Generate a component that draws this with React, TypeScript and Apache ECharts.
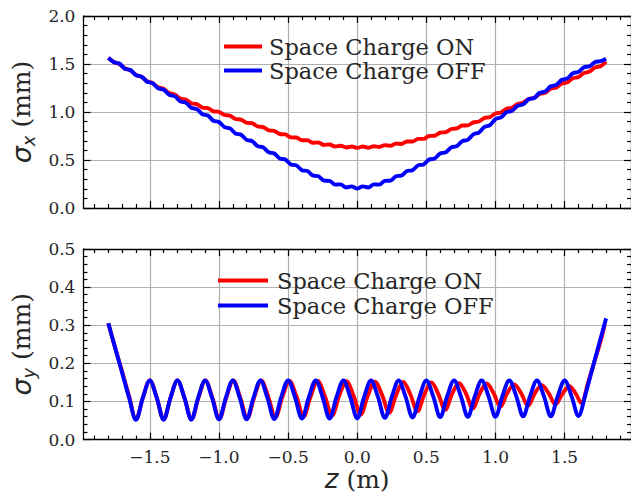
import React, { useEffect, useRef } from 'react';
import * as echarts from 'echarts';

// ---------- data ----------
const zX = [
  -1.8, -1.76, -1.72, -1.68, -1.64, -1.6, -1.56, -1.52, -1.48, -1.44,
  -1.4, -1.36, -1.32, -1.28, -1.24, -1.2, -1.16, -1.12, -1.08, -1.04,
  -1.0, -0.96, -0.92, -0.88, -0.84, -0.8, -0.76, -0.72, -0.68, -0.64,
  -0.6, -0.56, -0.52, -0.48, -0.44, -0.4, -0.36, -0.32, -0.28, -0.24,
  -0.2, -0.16, -0.12, -0.08, -0.04, 0.0, 0.04, 0.08, 0.12, 0.16,
  0.2, 0.24, 0.28, 0.32, 0.36, 0.4, 0.44, 0.48, 0.52, 0.56,
  0.6, 0.64, 0.68, 0.72, 0.76, 0.8, 0.84, 0.88, 0.92, 0.96,
  1.0, 1.04, 1.08, 1.12, 1.16, 1.2, 1.24, 1.28, 1.32, 1.36,
  1.4, 1.44, 1.48, 1.52, 1.56, 1.6, 1.64, 1.68, 1.72, 1.76,
  1.8,
];

const sigmaXOn = [
  1.562, 1.520, 1.500, 1.453, 1.434, 1.386, 1.367, 1.320, 1.302, 1.258,
  1.242, 1.198, 1.183, 1.141, 1.129, 1.091, 1.082, 1.046, 1.040, 1.007,
  1.002, 0.969, 0.962, 0.927, 0.921, 0.888, 0.883, 0.850, 0.843, 0.809,
  0.804, 0.771, 0.767, 0.736, 0.734, 0.706, 0.706, 0.679, 0.682, 0.657,
  0.662, 0.641, 0.649, 0.630, 0.641, 0.626, 0.640, 0.627, 0.644, 0.635,
  0.655, 0.648, 0.671, 0.667, 0.693, 0.692, 0.720, 0.720, 0.750, 0.753,
  0.785, 0.790, 0.823, 0.829, 0.859, 0.861, 0.892, 0.901, 0.938, 0.947,
  0.985, 0.995, 1.034, 1.045, 1.084, 1.096, 1.136, 1.148, 1.188, 1.201,
  1.242, 1.255, 1.296, 1.309, 1.351, 1.365, 1.406, 1.421, 1.463, 1.477,
  1.525,
];

const sigmaXOff = [
  1.565, 1.519, 1.505, 1.451, 1.437, 1.383, 1.369, 1.315, 1.301, 1.247,
  1.233, 1.179, 1.165, 1.111, 1.098, 1.044, 1.030, 0.977, 0.963, 0.909,
  0.896, 0.843, 0.829, 0.776, 0.763, 0.710, 0.697, 0.645, 0.632, 0.580,
  0.568, 0.516, 0.505, 0.454, 0.444, 0.394, 0.385, 0.338, 0.331, 0.286,
  0.283, 0.243, 0.246, 0.213, 0.225, 0.202, 0.225, 0.213, 0.246, 0.243,
  0.283, 0.286, 0.331, 0.338, 0.385, 0.394, 0.444, 0.454, 0.505, 0.516,
  0.568, 0.580, 0.632, 0.645, 0.697, 0.710, 0.768, 0.786, 0.844, 0.863,
  0.926, 0.944, 0.998, 1.012, 1.065, 1.079, 1.133, 1.146, 1.200, 1.214,
  1.268, 1.282, 1.336, 1.350, 1.404, 1.418, 1.467, 1.476, 1.520, 1.529,
  1.555,
];

const zYOn = [
  -1.8, -1.75, -1.7, -1.65, -1.6, -1.55, -1.5, -1.45, -1.4, -1.35,
  -1.3, -1.25, -1.198, -1.148, -1.098, -1.048, -0.997, -0.947, -0.896, -0.846,
  -0.795, -0.745, -0.694, -0.643, -0.592, -0.541, -0.49, -0.439, -0.388, -0.337,
  -0.286, -0.234, -0.182, -0.13, -0.078, -0.026, 0.025, 0.077, 0.128, 0.18,
  0.231, 0.282, 0.333, 0.384, 0.435, 0.486, 0.536, 0.586, 0.636, 0.686,
  0.736, 0.786, 0.836, 0.886, 0.936, 0.986, 1.035, 1.085, 1.135, 1.185,
  1.235, 1.285, 1.335, 1.385, 1.434, 1.484, 1.534, 1.578, 1.62, 1.67,
  1.72, 1.76, 1.79,
];

const sigmaYOn = [
  0.305, 0.240, 0.178, 0.114, 0.053, 0.110, 0.155, 0.110, 0.053, 0.110,
  0.155, 0.110, 0.054, 0.110, 0.155, 0.110, 0.055, 0.110, 0.155, 0.110,
  0.056, 0.111, 0.155, 0.112, 0.058, 0.112, 0.154, 0.113, 0.060, 0.113,
  0.154, 0.114, 0.063, 0.115, 0.153, 0.115, 0.066, 0.116, 0.152, 0.117,
  0.070, 0.118, 0.151, 0.119, 0.074, 0.119, 0.150, 0.120, 0.078, 0.120,
  0.148, 0.121, 0.082, 0.121, 0.147, 0.122, 0.086, 0.122, 0.145, 0.122,
  0.089, 0.122, 0.143, 0.121, 0.092, 0.120, 0.140, 0.122, 0.096, 0.150,
  0.210, 0.258, 0.302,
];

const zYOff = [
  -1.8, -1.75, -1.7, -1.65, -1.6, -1.55, -1.5, -1.45, -1.4, -1.35,
  -1.3, -1.25, -1.2, -1.15, -1.1, -1.05, -1.0, -0.95, -0.9, -0.85,
  -0.8, -0.75, -0.7, -0.65, -0.6, -0.55, -0.5, -0.45, -0.4, -0.35,
  -0.3, -0.25, -0.2, -0.15, -0.1, -0.05, 0.0, 0.05, 0.1, 0.15,
  0.2, 0.25, 0.3, 0.35, 0.4, 0.45, 0.5, 0.55, 0.6, 0.65,
  0.7, 0.75, 0.8, 0.85, 0.9, 0.95, 1.0, 1.05, 1.1, 1.15,
  1.2, 1.25, 1.3, 1.35, 1.4, 1.45, 1.5, 1.55, 1.6, 1.65,
  1.7, 1.75, 1.8,
];

const sigmaYOff = [
  0.305, 0.240, 0.175, 0.110, 0.052, 0.110, 0.155, 0.110, 0.052, 0.110,
  0.155, 0.110, 0.052, 0.110, 0.155, 0.110, 0.053, 0.110, 0.155, 0.110,
  0.053, 0.110, 0.155, 0.110, 0.054, 0.111, 0.155, 0.111, 0.055, 0.111,
  0.155, 0.111, 0.055, 0.111, 0.155, 0.111, 0.056, 0.112, 0.155, 0.112,
  0.057, 0.112, 0.155, 0.112, 0.058, 0.112, 0.155, 0.113, 0.059, 0.113,
  0.155, 0.113, 0.060, 0.113, 0.155, 0.113, 0.060, 0.114, 0.155, 0.114,
  0.061, 0.114, 0.155, 0.114, 0.061, 0.114, 0.155, 0.114, 0.062, 0.118,
  0.185, 0.252, 0.318,
];

const seriesNames = ['Space Charge ON', 'Space Charge OFF'];
const xMajorTicks = [-1.5, -1.0, -0.5, 0.0, 0.5, 1.0, 1.5];
const xMinorTicks = [
  -1.9, -1.8, -1.7, -1.6, -1.4, -1.3, -1.2, -1.1, -0.9, -0.8, -0.7, -0.6,
  -0.4, -0.3, -0.2, -0.1, 0.1, 0.2, 0.3, 0.4, 0.6, 0.7, 0.8, 0.9,
  1.1, 1.2, 1.3, 1.4, 1.6, 1.7, 1.8, 1.9,
];
const X_MIN = -1.98;
const X_MAX = 1.98;

// ---------- styling ----------
const TEXT = '#262626';
const SPINE = '#000000';
const GRIDC = '#b0b0b0';
const RED = '#ff0000';
const BLUE = '#0000ff';
const SERIF = 'DejaVu Serif';
const SANS = 'DejaVu Sans';
const TICK_FS = 17;
const LEGEND_FS = 22.5;

const fmtX = (v: number) => (v < 0 ? '\u2212' : '') + Math.abs(v).toFixed(1);

function xAxesFor(gi: number, withLabels: boolean) {
  const base = { type: 'value', gridIndex: gi, min: X_MIN, max: X_MAX };
  const tickLine = { color: SPINE, width: 1.2 };
  const major = {
    ...base,
    position: 'bottom',
    axisLine: { show: true, onZero: false, lineStyle: { color: SPINE, width: 1.3 } },
    axisTick: { show: true, inside: true, length: 7, customValues: xMajorTicks, lineStyle: tickLine },
    axisLabel: {
      show: withLabels,
      customValues: xMajorTicks,
      formatter: fmtX,
      margin: 9,
      lineHeight: 16,
      fontFamily: SERIF,
      fontSize: TICK_FS,
      color: TEXT,
    },
    splitLine: { show: true, lineStyle: { color: GRIDC, width: 1.2 } },
    ...(withLabels
      ? {
          name: '{z|z}{p| (m)}',
          nameLocation: 'middle',
          nameGap: 26,
          nameTextStyle: {
            rich: {
              z: { fontFamily: SANS, fontStyle: 'italic', fontSize: 26, color: TEXT, lineHeight: 20 },
              p: { fontFamily: SERIF, fontSize: 25, color: TEXT, lineHeight: 20 },
            },
          },
        }
      : {}),
  };
  const minor = {
    ...base,
    position: 'bottom',
    axisLine: { show: false, onZero: false },
    axisTick: { show: true, inside: true, length: 4, customValues: xMinorTicks, lineStyle: tickLine },
    axisLabel: { show: false },
    splitLine: { show: false },
  };
  const topMajor = {
    ...base,
    position: 'top',
    axisLine: { show: true, onZero: false, lineStyle: { color: SPINE, width: 1.3 } },
    axisTick: { show: true, inside: true, length: 7, customValues: xMajorTicks, lineStyle: tickLine },
    axisLabel: { show: false },
    splitLine: { show: false },
  };
  const topMinor = {
    ...base,
    position: 'top',
    axisLine: { show: false, onZero: false },
    axisTick: { show: true, inside: true, length: 4, customValues: xMinorTicks, lineStyle: tickLine },
    axisLabel: { show: false },
    splitLine: { show: false },
  };
  return [major, minor, topMajor, topMinor];
}

function yAxesFor(gi: number, max: number, interval: number, sub: string) {
  const base = { type: 'value', gridIndex: gi, min: 0, max, interval };
  const tickLine = { color: SPINE, width: 1.2 };
  const left = {
    ...base,
    position: 'left',
    axisLine: { show: true, onZero: false, lineStyle: { color: SPINE, width: 1.3 } },
    axisTick: { show: true, inside: true, length: 7, lineStyle: tickLine },
    minorTick: { show: true, splitNumber: 5, length: 4, lineStyle: tickLine },
    axisLabel: {
      formatter: (v: number) => v.toFixed(1),
      margin: 8,
      fontFamily: SERIF,
      fontSize: TICK_FS,
      color: TEXT,
    },
    splitLine: { show: true, lineStyle: { color: GRIDC, width: 1.2 } },
    name: '{s|\u03c3}{sub|' + sub + '}{p| (mm)}',
    nameLocation: 'middle',
    nameRotate: 90,
    nameGap: 41,
    nameTextStyle: {
      rich: {
        s: { fontFamily: SANS, fontStyle: 'italic', fontSize: 27, color: TEXT, lineHeight: 32 },
        sub: { fontFamily: SANS, fontStyle: 'italic', fontSize: 18, color: TEXT, verticalAlign: 'bottom', lineHeight: 18 },
        p: { fontFamily: SERIF, fontSize: 25, color: TEXT, lineHeight: 32 },
      },
    },
  };
  const right = {
    ...base,
    position: 'right',
    axisLine: { show: true, onZero: false, lineStyle: { color: SPINE, width: 1.3 } },
    axisTick: { show: true, inside: true, length: 7, lineStyle: tickLine },
    minorTick: { show: true, splitNumber: 5, length: 4, lineStyle: tickLine },
    axisLabel: { show: false },
    splitLine: { show: false },
  };
  return [left, right];
}

function legendRow(name: string, left: number, top: number, itemWidth: number, padLeft: number) {
  return {
    left,
    top,
    padding: 0,
    orient: 'vertical',
    itemWidth,
    itemHeight: 4,
    icon: 'rect',
    selectedMode: false,
    data: [name],
    textStyle: {
      fontFamily: SERIF,
      fontSize: LEGEND_FS,
      lineHeight: 22,
      color: TEXT,
      padding: [0, 0, 0, padLeft],
    },
  };
}

function lineSeries(name: string, color: string, xi: number, yi: number, zs: number[], vs: number[], smooth: number) {
  return {
    name,
    type: 'line',
    xAxisIndex: xi,
    yAxisIndex: yi,
    data: zs.map((z, i) => [z, vs[i]]),
    showSymbol: false,
    symbol: 'none',
    smooth,
    lineStyle: { color, width: 3.9 },
    itemStyle: { color },
    z: color === BLUE ? 3 : 2,
  };
}

export default function App() {
  const ref = useRef<HTMLDivElement>(null);
  useEffect(() => {
    if (!ref.current) return;
    const chart = echarts.init(ref.current, undefined, { renderer: 'svg' });
    const option: any = {
      animation: false,
      backgroundColor: '#ffffff',
      grid: [
        { left: 80, top: 16, width: 554, height: 192 },
        { left: 80, top: 249, width: 554, height: 192 },
      ],
      xAxis: [...xAxesFor(0, false), ...xAxesFor(1, true)],
      yAxis: [...yAxesFor(0, 2.0, 0.5, 'x'), ...yAxesFor(1, 0.5, 0.1, 'y')],
      legend: [
        legendRow(seriesNames[0], 224, 35, 38, 2),
        legendRow(seriesNames[1], 224, 59, 38, 2),
        legendRow(seriesNames[0], 218, 269, 50, 4),
        legendRow(seriesNames[1], 218, 294, 50, 4),
      ],
      series: [
        lineSeries(seriesNames[0], RED, 0, 0, zX, sigmaXOn, 0.3),
        lineSeries(seriesNames[1], BLUE, 0, 0, zX, sigmaXOff, 0.3),
        lineSeries(seriesNames[0], RED, 4, 2, zYOn, sigmaYOn, 0.35),
        lineSeries(seriesNames[1], BLUE, 4, 2, zYOff, sigmaYOff, 0.35),
      ],
    };
    chart.setOption(option);
    return () => chart.dispose();
  }, []);
  return (
    <div
      ref={ref}
      style={{ position: 'fixed', left: 0, top: 0, width: 631, height: 493, background: '#fff' }}
    />
  );
}
